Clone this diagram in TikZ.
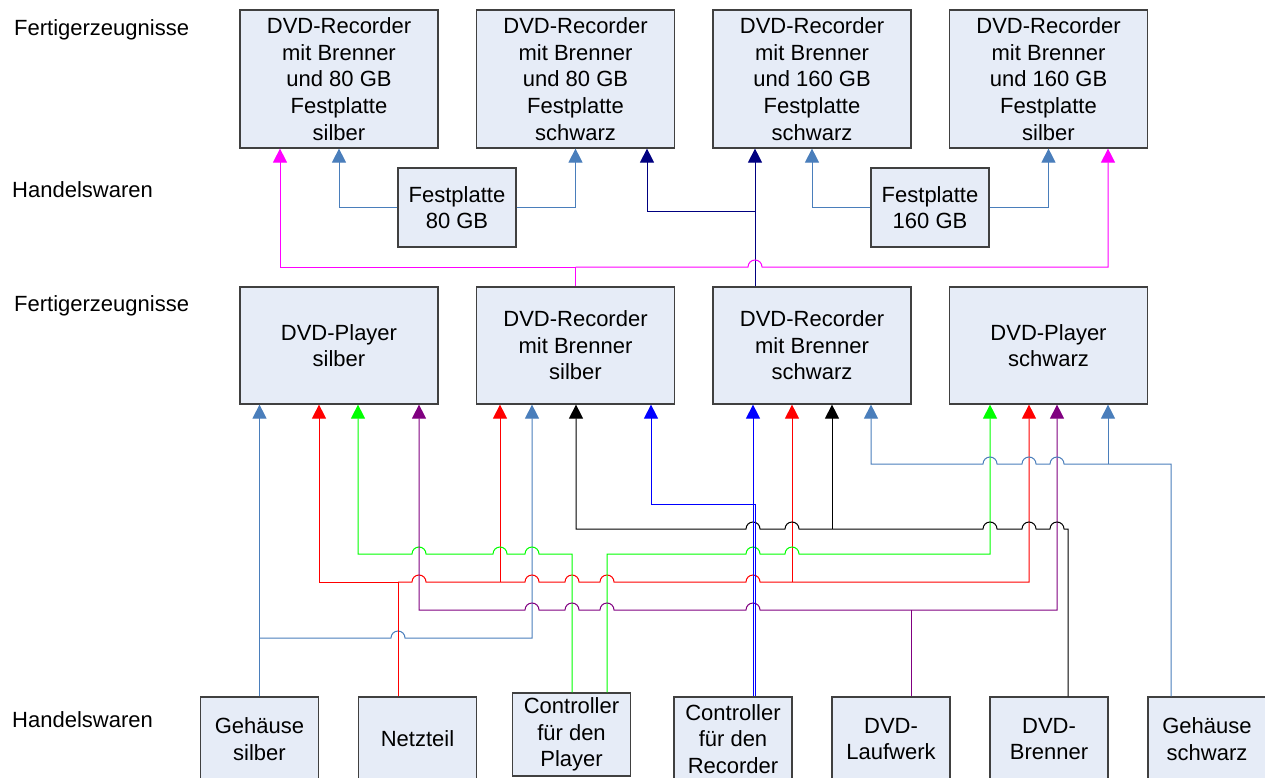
\documentclass[tikz,border=0pt]{standalone}
\usepackage{fontspec}
\setmainfont{Liberation Sans}
\usetikzlibrary{arrows.meta}

\definecolor{boxfill}{HTML}{E6ECF7}
\definecolor{boxline}{HTML}{404040}
\definecolor{steel}{HTML}{4A7EBB}
\definecolor{mag}{HTML}{FF00FF}
\definecolor{navyblue}{HTML}{000080}
\definecolor{purp}{HTML}{800080}
\definecolor{lgreen}{HTML}{00FF00}
\definecolor{brightblue}{HTML}{0000FF}

% line hop over a vertical line at x = #1, y = #2
\newcommand\hop[2]{-- (#1-7,#2) arc[start angle=180, end angle=0, radius=7pt]}

\begin{document}
\begin{tikzpicture}[x = 1pt, y = -1pt, > = {Triangle[length = 14pt, width = 14pt]},
	box/.style = {draw = boxline, fill = boxfill, line width = 1.2pt, align = center, inner sep = 0pt, font = \fontsize{22}{26.6}\selectfont},
	top/.style = {box, minimum width = 198pt, minimum height = 138pt},
	mid/.style = {box, minimum width = 198pt, minimum height = 117pt},
	part/.style = {box, minimum width = 118pt, minimum height = 84pt},
	lbl/.style = {anchor = west, inner sep = 0pt, font = \fontsize{22}{26.6}\selectfont},
	conn/.style = {line width = 1pt}]

\useasboundingbox (0, 0) rectangle (1265, 778);

% Row labels

\node [lbl] (lblFE1) at (14, 30) {Fertigerzeugnisse};
\node [lbl] (lblHW1) at (12, 190) {Handelswaren};
\node [lbl] (lblFE2) at (14, 306) {Fertigerzeugnisse};
\node [lbl] (lblHW2) at (12, 720) {Handelswaren};

% Recorders with hard disk

\node [top] (r80silber) at (339, 79) {DVD-Recorder\\mit Brenner\\und 80 GB\\Festplatte\\silber};
\node [top] (r80schwarz) at (575.5, 79) {DVD-Recorder\\mit Brenner\\und 80 GB\\Festplatte\\schwarz};
\node [top] (r160schwarz) at (812, 79) {DVD-Recorder\\mit Brenner\\und 160 GB\\Festplatte\\schwarz};
\node [top] (r160silber) at (1048.5, 79) {DVD-Recorder\\mit Brenner\\und 160 GB\\Festplatte\\silber};

% Hard disks

\node [part, minimum height = 79pt] (hd80) at (457, 207.5) {Festplatte\\80 GB};
\node [part, minimum height = 79pt] (hd160) at (930, 207.5) {Festplatte\\160 GB};

% Players and recorders

\node [mid] (playerSilber) at (339, 345.5) {DVD-Player\\silber};
\node [mid] (recSilber) at (575.5, 345.5) {DVD-Recorder\\mit Brenner\\silber};
\node [mid] (recSchwarz) at (812, 345.5) {DVD-Recorder\\mit Brenner\\schwarz};
\node [mid] (playerSchwarz) at (1048.5, 345.5) {DVD-Player\\schwarz};

% Parts

\node [part] (gehSilber) at (259.5, 739) {Gehäuse\\silber};
\node [part] (netzteil) at (417.5, 739) {Netzteil};
\node [part, minimum height = 83pt] (ctrlPlayer) at (571.5, 734.5) {Controller\\für den\\Player};
\node [part] (ctrlRecorder) at (733, 739) {Controller\\für den\\Recorder};
\node [part] (laufwerk) at (891, 739) {DVD-\\Laufwerk};
\node [part] (brenner) at (1049, 739) {DVD-\\Brenner};
\node [part] (gehSchwarz) at (1207, 739) {Gehäuse\\schwarz};

% Hard disks into recorders

\draw [conn, steel, ->] (hd80.west) -| (r80silber.south);
\draw [conn, steel, ->] (hd80.east) -| (r80schwarz.south);
\draw [conn, steel, ->] (hd160.west) -| (r160schwarz.south);
\draw [conn, steel, ->] (hd160.east) -| (r160silber.south);

% Recorders into recorders with hard disk

\draw [conn, navyblue, ->] (755, 0 |- recSchwarz.north) -- (755, 0 |- r160schwarz.south);
\draw [conn, navyblue, ->] (755, 211) -| (647, 0 |- r80schwarz.south);
\draw [conn, mag, ->] (recSilber.north) |- (280, 267) -- (280, 0 |- r80silber.south);
\draw [conn, mag, ->] (recSilber.north |- 0, 267) \hop{755}{267} -| (1108, 0 |- r160silber.south);

% Gehaeuse silber

\draw [conn, steel, ->] (gehSilber.north) -- (gehSilber.north |- playerSilber.south);
\draw [conn, steel, ->] (gehSilber.north |- 0, 638) \hop{398}{638} -| (532, 0 |- recSilber.south);

% Netzteil

\draw [conn, red, ->] (398, 0 |- netzteil.north) |- (319, 582) -- (319, 0 |- playerSilber.south);
\draw [conn, red, ->] (398, 582) \hop{419}{582} \hop{532}{582} \hop{572}{582} \hop{607}{582} \hop{753}{582} -| (1029, 0 |- playerSchwarz.south);
\draw [conn, red, ->] (500, 582) -- (500, 0 |- recSilber.south);
\draw [conn, red, ->] (792, 582) -- (792, 0 |- recSchwarz.south);

% Controller fuer den Player

\draw [conn, lgreen, <-] (358, 0 |- playerSilber.south) -- (358, 554) \hop{419}{554} \hop{500}{554} \hop{532}{554} -| (572, 0 |- ctrlPlayer.north);
\draw [conn, lgreen, ->] (607, 0 |- ctrlPlayer.north) -- (607, 554) \hop{753}{554} \hop{792}{554} -| (990, 0 |- playerSchwarz.south);

% DVD-Laufwerk

\draw [conn, purp, <->] (419, 0 |- playerSilber.south) -- (419, 610) \hop{532}{610} \hop{572}{610} \hop{607}{610} \hop{753}{610} -| (1057, 0 |- playerSchwarz.south);
\draw [conn, purp] (911, 0 |- laufwerk.north) -- (911, 610);

% DVD-Brenner

\draw [conn, black, <-] (576, 0 |- recSilber.south) -- (576, 529) \hop{753}{529} \hop{792}{529} \hop{990}{529} \hop{1029}{529} \hop{1057}{529} -| (1068, 0 |- brenner.north);
\draw [conn, black, ->] (832, 529) -- (832, 0 |- recSchwarz.south);

% Gehaeuse schwarz

\draw [conn, steel, <-] (871, 0 |- recSchwarz.south) -- (871, 464) \hop{990}{464} \hop{1029}{464} \hop{1057}{464} -| (1171, 0 |- gehSchwarz.north);
\draw [conn, steel, ->] (1108, 464) -- (1108, 0 |- playerSchwarz.south);

% Controller fuer den Recorder

\draw [conn, brightblue, ->] (753, 0 |- ctrlRecorder.north) -- (753, 0 |- recSchwarz.south);
\draw [conn, brightblue, ->] (755, 0 |- ctrlRecorder.north) |- (651, 504) -- (651, 0 |- recSilber.south);

\end{tikzpicture}
\end{document}
